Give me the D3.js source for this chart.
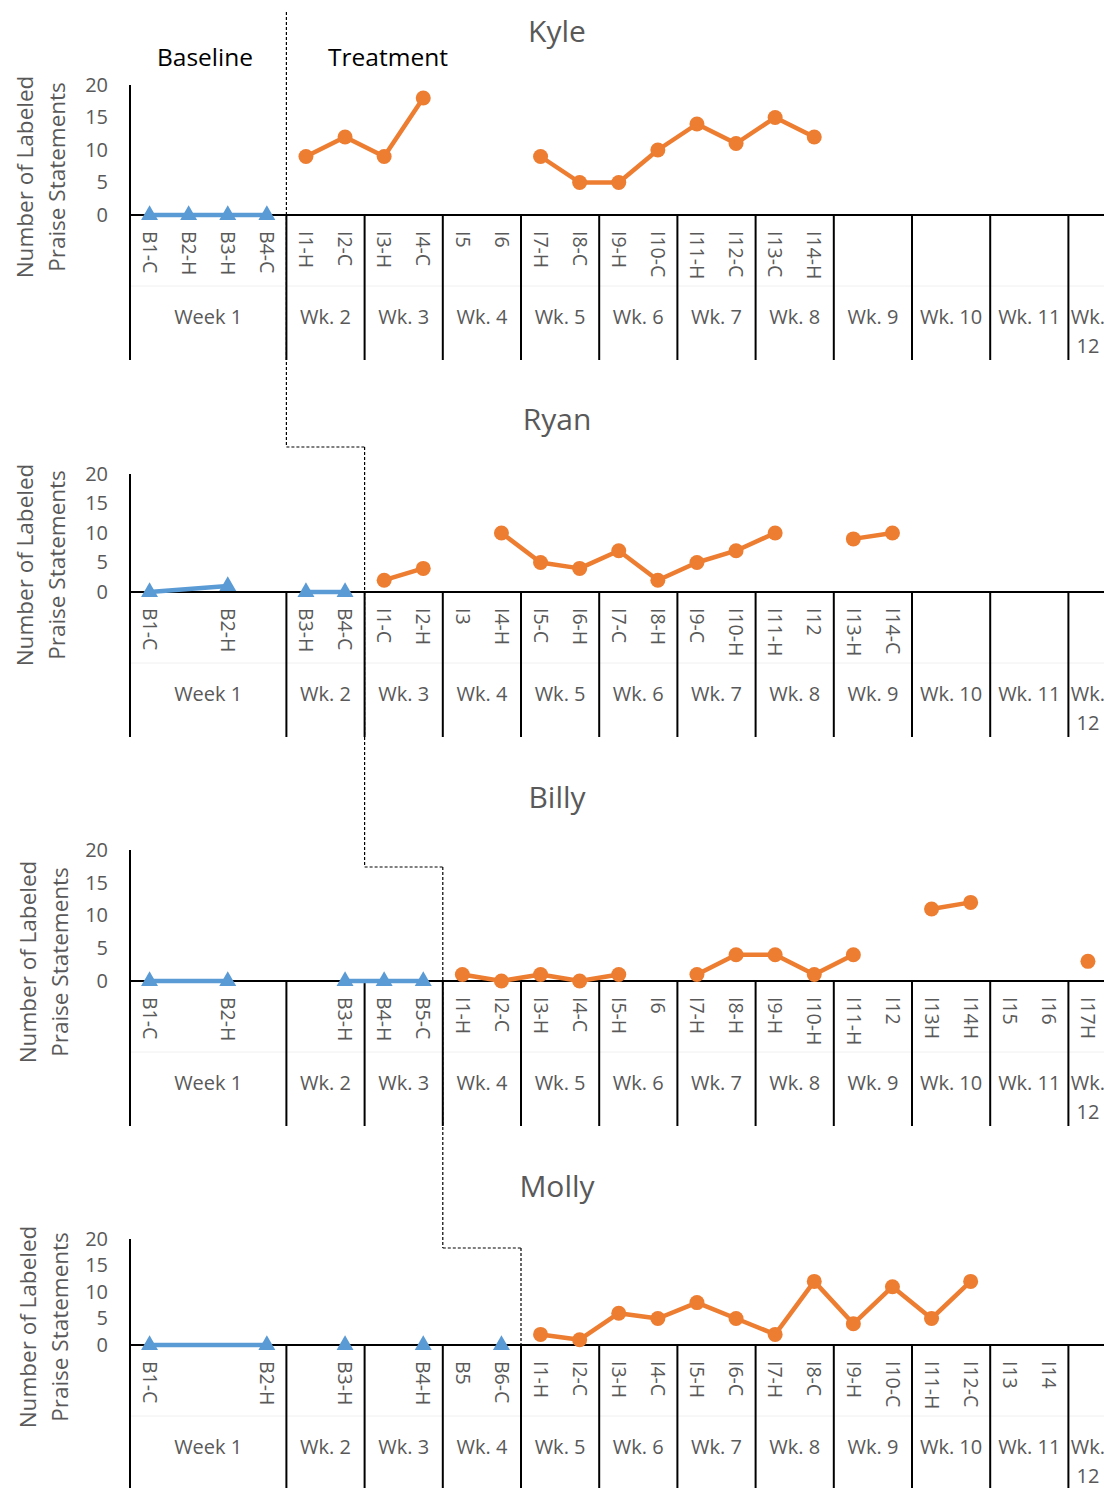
<!DOCTYPE html>
<html>
<head>
<meta charset="utf-8">
<script src="https://cdn.jsdelivr.net/npm/d3@7"></script>
<style>
  body { margin: 0; background: #fff; }
  text { font-family: 'Open Sans', sans-serif; }
</style>
</head>
<body>
<div id="vis"></div>
<script>
// data
const NA = 'NA'; // skipped point, line is drawn across it (null = gap)

const weekNames = ['Week 1', 'Wk. 2', 'Wk. 3', 'Wk. 4', 'Wk. 5', 'Wk. 6', 'Wk. 7', 'Wk. 8', 'Wk. 9', 'Wk. 10', 'Wk. 11', 'Wk. 12'];
const weekSizes = [4, 2, 2, 2, 2, 2, 2, 2, 2, 2, 2, 1];
const yTicks = [0, 5, 10, 15, 20];

const kyleCats = ['B1-C', 'B2-H', 'B3-H', 'B4-C', 'I1-H', 'I2-C', 'I3-H', 'I4-C', 'I5', 'I6', 'I7-H', 'I8-C', 'I9-H', 'I10-C', 'I11-H', 'I12-C', 'I13-C', 'I14-H', '', '', '', '', '', '', ''];
const kyleBase = [0, 0, 0, 0, null, null, null, null, null, null, null, null, null, null, null, null, null, null, null, null, null, null, null, null, null];
const kyleTreat = [null, null, null, null, 9, 12, 9, 18, null, null, 9, 5, 5, 10, 14, 11, 15, 12, null, null, null, null, null, null, null];

const ryanCats = ['B1-C', '', 'B2-H', '', 'B3-H', 'B4-C', 'I1-C', 'I2-H', 'I3', 'I4-H', 'I5-C', 'I6-H', 'I7-C', 'I8-H', 'I9-C', 'I10-H', 'I11-H', 'I12', 'I13-H', 'I14-C', '', '', '', '', ''];
const ryanBase = [0, NA, 1, null, 0, 0, null, null, null, null, null, null, null, null, null, null, null, null, null, null, null, null, null, null, null];
const ryanTreat = [null, null, null, null, null, null, 2, 4, null, 10, 5, 4, 7, 2, 5, 7, 10, null, 9, 10, null, null, null, null, null];

const billyCats = ['B1-C', '', 'B2-H', '', '', 'B3-H', 'B4-H', 'B5-C', 'I1-H', 'I2-C', 'I3-H', 'I4-C', 'I5-H', 'I6', 'I7-H', 'I8-H', 'I9-H', 'I10-H', 'I11-H', 'I12', 'I13H', 'I14H', 'I15', 'I16', 'I17H'];
const billyBase = [0, NA, 0, null, null, 0, 0, 0, null, null, null, null, null, null, null, null, null, null, null, null, null, null, null, null, null];
const billyTreat = [null, null, null, null, null, null, null, null, 1, 0, 1, 0, 1, null, 1, 4, 4, 1, 4, null, 11, 12, null, null, 3];

const mollyCats = ['B1-C', '', '', 'B2-H', '', 'B3-H', '', 'B4-H', 'B5', 'B6-C', 'I1-H', 'I2-C', 'I3-H', 'I4-C', 'I5-H', 'I6-C', 'I7-H', 'I8-C', 'I9-H', 'I10-C', 'I11-H', 'I12-C', 'I13', 'I14', ''];
const mollyBase = [0, NA, NA, 0, null, 0, null, 0, null, 0, null, null, null, null, null, null, null, null, null, null, null, null, null, null, null];
const mollyTreat = [null, null, null, null, null, null, null, null, null, null, 2, 1, 6, 5, 8, 5, 2, 12, 4, 11, 5, 12, null, null, null];

// first treatment slot of each student
const phaseStart = [4, 6, 8, 10];

// layout
const W = 1104, H = 1488;
const gray = '#595959';
const orange = '#ED7D31';
const blue = '#5B9BD5';

const panels = [
    { name: 'Kyle',  cats: kyleCats,  base: kyleBase,  treat: kyleTreat,  top: 85,   zero: 215,  titleY: 42,   ytY: 177,  ytX: 25 },
    { name: 'Ryan',  cats: ryanCats,  base: ryanBase,  treat: ryanTreat,  top: 474,  zero: 592,  titleY: 430,  ytY: 565,  ytX: 25 },
    { name: 'Billy', cats: billyCats, base: billyBase, treat: billyTreat, top: 850,  zero: 981,  titleY: 808,  ytY: 962,  ytX: 28 },
    { name: 'Molly', cats: mollyCats, base: mollyBase, treat: mollyTreat, top: 1239, zero: 1345, titleY: 1197, ytY: 1327, ytX: 28 }
];
// vertical extent of each dashed phase segment
const phaseY = [12, 447, 867, 1248, 1373];

const svg = d3.select('#vis')
    .append('svg')
    .attr('width', W)
    .attr('height', H);

// x scale shared by all panels (25 category slots)
const xScale = d3.scaleBand()
    .domain(d3.range(25))
    .range([130, 1107.5]);
const bw = xScale.bandwidth();
const cx = i => xScale(i) + bw / 2;

// week boundaries (slot index where each week starts)
const weekStart = weekSizes.map((s, i) => d3.sum(weekSizes.slice(0, i)));

panels.forEach((p, pi) => {
    const g = svg.append('g');
    const yScale = d3.scaleLinear().domain([0, 20]).range([p.zero, p.top]);
    const bottom = p.zero + 145;

    // title
    g.append('text')
        .attr('x', 557).attr('y', p.titleY)
        .attr('text-anchor', 'middle')
        .style('font-size', '30px')
        .style('fill', gray)
        .text(p.name);

    // y axis title
    ['Number of Labeled', 'Praise Statements'].forEach((t, k) => {
        g.append('text')
            .attr('transform', `translate(${p.ytX + k * 32},${p.ytY}) rotate(-90)`)
            .attr('text-anchor', 'middle')
            .attr('dy', '0.35em')
            .style('font-size', '22.5px')
            .style('fill', gray)
            .text(t);
    });

    // y axis ticks
    const yAxis = d3.axisLeft(yScale).tickValues(yTicks).tickSize(0).tickPadding(22);
    const ya = g.append('g').attr('transform', 'translate(130,0)').call(yAxis);
    ya.select('.domain').remove();
    ya.selectAll('text').style('font-size', '20px').style('fill', gray).style('font-family', "'Open Sans', sans-serif");

    // faint separator between category levels
    g.append('line')
        .attr('x1', 130).attr('x2', W)
        .attr('y1', p.zero + 71).attr('y2', p.zero + 71)
        .attr('stroke', '#f0f0f0').attr('stroke-width', 1);

    // y axis line
    g.append('line')
        .attr('x1', 130).attr('x2', 130)
        .attr('y1', p.top).attr('y2', bottom)
        .attr('stroke', '#000').attr('stroke-width', 2);

    // week dividers
    weekStart.slice(1).forEach(s => {
        g.append('line')
            .attr('x1', xScale(s)).attr('x2', xScale(s))
            .attr('y1', p.zero).attr('y2', bottom)
            .attr('stroke', '#000').attr('stroke-width', 2);
    });

    // x axis line
    g.append('line')
        .attr('x1', 130).attr('x2', W)
        .attr('y1', p.zero).attr('y2', p.zero)
        .attr('stroke', '#000').attr('stroke-width', 2);

    // category labels (rotated)
    g.selectAll('.cat')
        .data(p.cats)
        .join('text')
        .attr('class', 'cat')
        .attr('transform', (d, i) => `translate(${cx(i)},${p.zero + 16}) rotate(90)`)
        .attr('dy', '0.35em')
        .style('font-size', '19.5px')
        .style('fill', gray)
        .text(d => d);

    // week labels
    weekNames.forEach((w, i) => {
        const mid = (xScale(weekStart[i]) + xScale(weekStart[i]) + weekSizes[i] * bw) / 2;
        const t = g.append('text')
            .attr('x', mid).attr('y', p.zero + 109)
            .attr('text-anchor', 'middle')
            .style('font-size', '20px')
            .style('fill', gray);
        if (weekSizes[i] * bw < 60) {
            // narrow cell: label wraps
            const parts = w.split(' ');
            t.append('tspan').attr('x', mid).text(parts[0]);
            t.append('tspan').attr('x', mid).attr('dy', 29).text(parts[1]);
        } else {
            t.text(w);
        }
    });

    // series
    const series = [
        { vals: p.base, color: blue, shape: 'tri' },
        { vals: p.treat, color: orange, shape: 'dot' }
    ];
    series.forEach(s => {
        const pts = s.vals.map((v, i) => ({ i, v })).filter(d => d.v !== NA);
        const line = d3.line()
            .defined(d => d.v !== null)
            .x(d => cx(d.i))
            .y(d => yScale(d.v));
        g.append('path')
            .datum(pts)
            .attr('d', line)
            .attr('fill', 'none')
            .attr('stroke', s.color)
            .attr('stroke-width', 4.5)
            .attr('stroke-linejoin', 'round');

        const marks = pts.filter(d => d.v !== null);
        if (s.shape === 'dot') {
            g.selectAll(null)
                .data(marks)
                .join('circle')
                .attr('cx', d => cx(d.i))
                .attr('cy', d => yScale(d.v))
                .attr('r', 7.5)
                .attr('fill', s.color);
        } else {
            g.selectAll(null)
                .data(marks)
                .join('path')
                .attr('d', d3.symbol(d3.symbolTriangle, 125))
                .attr('transform', d => `translate(${cx(d.i)},${yScale(d.v)})`)
                .attr('fill', s.color);
        }
    });

    // phase change line
    const px = xScale(phaseStart[pi]);
    g.append('line')
        .attr('x1', px).attr('x2', px)
        .attr('y1', phaseY[pi]).attr('y2', phaseY[pi + 1])
        .attr('stroke', '#000').attr('stroke-width', 1.2)
        .attr('stroke-dasharray', '3,2');
    if (pi < panels.length - 1) {
        const nx = xScale(phaseStart[pi + 1]);
        g.append('line')
            .attr('x1', px).attr('x2', nx)
            .attr('y1', phaseY[pi + 1]).attr('y2', phaseY[pi + 1])
            .attr('stroke', '#000').attr('stroke-width', 1.2)
            .attr('stroke-dasharray', '3,2');
    }
});

// phase labels
svg.append('text')
    .attr('x', 205).attr('y', 66)
    .attr('text-anchor', 'middle')
    .style('font-size', '24.5px')
    .style('fill', '#000')
    .text('Baseline');
svg.append('text')
    .attr('x', 388).attr('y', 66)
    .attr('text-anchor', 'middle')
    .style('font-size', '24.5px')
    .style('fill', '#000')
    .text('Treatment');
</script>
</body>
</html>
